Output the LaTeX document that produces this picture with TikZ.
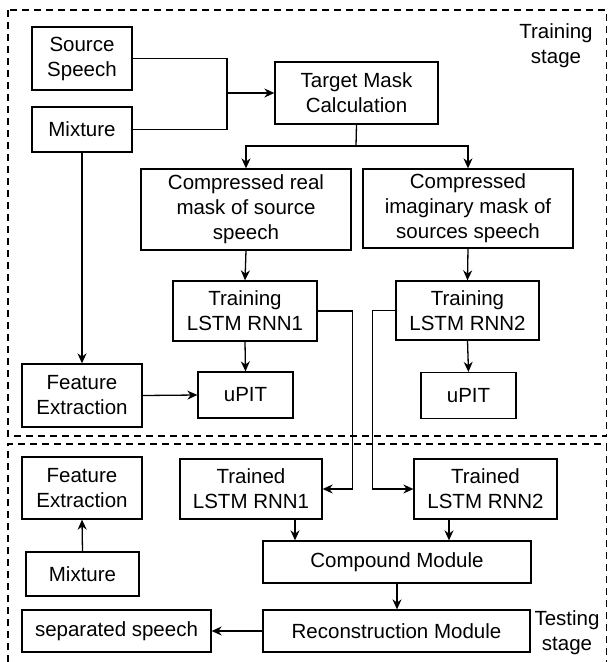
\documentclass[tikz,border=0pt]{standalone}
\usepackage{fontspec}
\setmainfont{Liberation Sans}
\usetikzlibrary{arrows.meta}
\begin{document}
\begin{tikzpicture}[x=1pt,y=-1pt,
  every node/.style={font=\fontsize{20.5}{25}\selectfont},
  box/.style={draw, line width=1.3pt, inner sep=0pt, align=center},
  conn/.style={line width=1.3pt},
  arr/.style={conn, -{Stealth[length=10pt,width=9pt]}},
  frame/.style={line width=1.3pt, dash pattern=on 7pt off 5pt}]
\useasboundingbox (0,0) rectangle (608,662);
% frames
\draw[frame] (8,10) rectangle (606.5,436);
\draw[frame] (8,662) -- (8,444) -- (606.5,444) -- (606.5,662);
% training stage
\node[box, minimum width=100pt, minimum height=63pt] (ss) at (82,58.5) {Source\\Speech};
\node[box, minimum width=100pt, minimum height=45pt] (mix1) at (82,129.5) {Mixture};
\node[box, minimum width=163pt, minimum height=62pt] (tm) at (356.5,93) {Target Mask\\Calculation};
\node[box, minimum width=210pt, minimum height=81pt] (cr) at (246,209.5) {Compressed real\\mask of source\\speech};
\node[box, minimum width=210pt, minimum height=79pt] (ci) at (468,208.5) {Compressed\\imaginary mask of\\sources speech};
\node[box, minimum width=144pt, minimum height=60pt] (r1) at (245,311) {Training\\LSTM RNN1};
\node[box, minimum width=143pt, minimum height=59pt] (r2) at (467.5,310.5) {Training\\LSTM RNN2};
\node[box, minimum width=95pt, minimum height=46pt] (u1) at (245.5,395) {uPIT};
\node[box, minimum width=95pt, minimum height=46pt] (u2) at (468.5,395.5) {uPIT};
\node[box, minimum width=120pt, minimum height=63pt] (fe1) at (82,395.5) {Feature\\Extraction};
\node[align=center] (trs) at (556,46) {Training\\stage};
% testing stage
\node[box, minimum width=142pt, minimum height=60pt] (t1) at (251,489) {Trained\\LSTM RNN1};
\node[box, minimum width=143pt, minimum height=60pt] (t2) at (485.5,489) {Trained\\LSTM RNN2};
\node[box, minimum width=268pt, minimum height=42pt] (cm) at (397,562) {Compound Module};
\node[box, minimum width=267pt, minimum height=42pt] (rm) at (396.5,631) {Reconstruction Module};
\node[box, minimum width=189pt, minimum height=42pt] (sep) at (116.5,631) {separated speech};
\node[box, minimum width=120pt, minimum height=62pt] (fe2) at (82,488) {Feature\\Extraction};
\node[box, minimum width=113pt, minimum height=44pt] (mix2) at (82.5,574) {Mixture};
\node[align=center] (tes) at (567,633) {Testing\\stage};
% connectors
\coordinate (j1) at (227,93);
\coordinate (j2) at (356,146);
\draw[conn] (ss.east) -| (j1);
\draw[conn] (mix1.east) -| (j1);
\draw[arr] (j1) -- (tm.west);
\draw[conn] (tm.south) -- (j2);
\draw[arr] (j2) -| (cr.north);
\draw[arr] (j2) -| (ci.north);
\draw[arr] (cr.south) -- (r1.north);
\draw[arr] (ci.south) -- (r2.north);
\draw[arr] (r1.south) -- (u1.north);
\draw[arr] (r2.south) -- (u2.north);
\draw[arr] (mix1.south) -- (fe1.north);
\draw[arr] (fe1.east) -- (u1.west);
\draw[arr] (r1.east) -- ++(35,0) |- (t1.east);
\draw[arr] (r2.west) -- ++(-23,0) |- (t2.west);
\draw[arr] ([xshift=44pt]t1.south) -- ([xshift=44pt]t1.south |- cm.north);
\draw[arr] ([xshift=-36.5pt]t2.south) -- ([xshift=-36.5pt]t2.south |- cm.north);
\draw[arr] (cm.south) -- (cm.south |- rm.north);
\draw[arr] (rm.west) -- (sep.east);
\draw[arr] (mix2.north) -- (fe2.south);
\end{tikzpicture}
\end{document}
